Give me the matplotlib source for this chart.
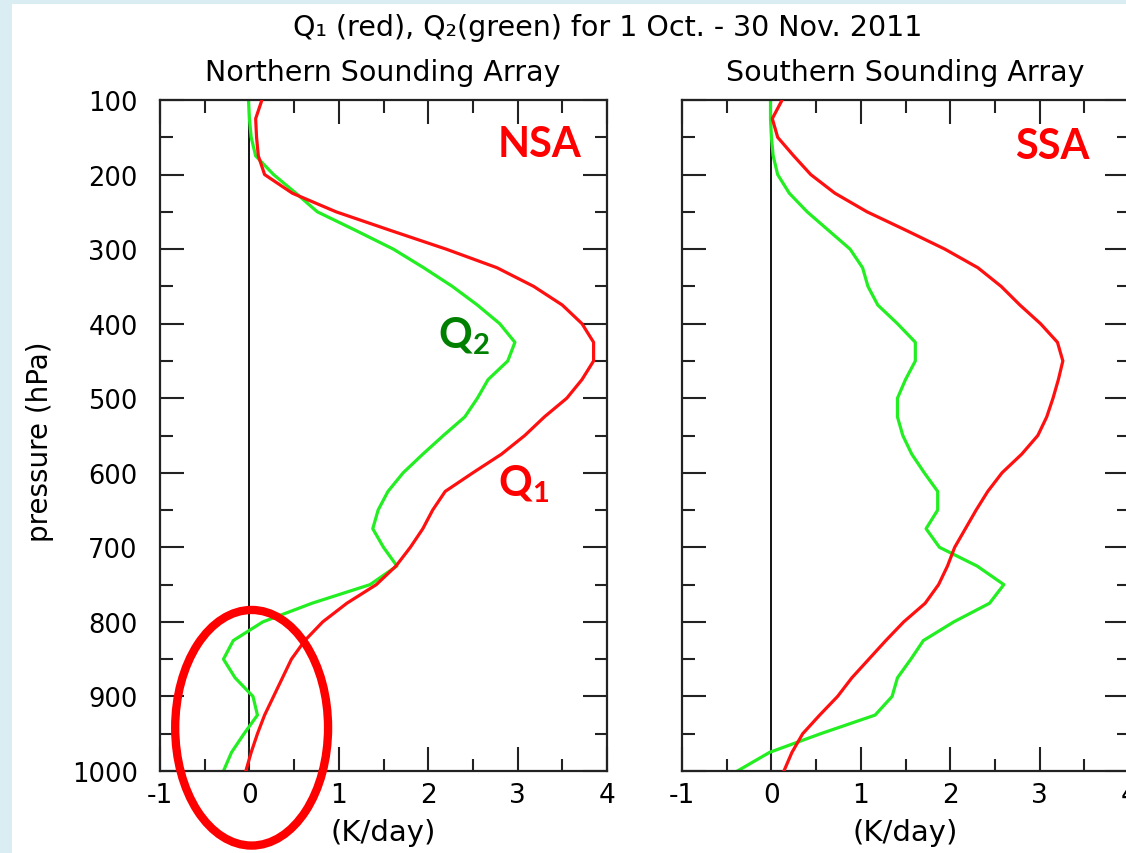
import matplotlib
matplotlib.use("Agg")
import matplotlib.pyplot as plt
from matplotlib.patches import Ellipse
from matplotlib.ticker import MultipleLocator

plt.rcParams['font.family'] = ['DejaVu Sans']
plt.rcParams['mathtext.fontset'] = 'custom'
plt.rcParams['mathtext.bf'] = 'Lato:bold'
plt.rcParams['mathtext.rm'] = 'Lato'

# pressure levels (hPa)
pressure = [100, 125, 150, 175, 200, 225, 250, 275, 300, 325, 350, 375, 400,
            425, 450, 475, 500, 525, 550, 575, 600, 625, 650, 675, 700, 725,
            750, 775, 800, 825, 850, 875, 900, 925, 950, 975, 1000]

# Northern Sounding Array (K/day)
nsa_q1 = [0.14, 0.07, 0.08, 0.10, 0.17, 0.48, 0.97, 1.58, 2.20, 2.77, 3.18, 3.50, 3.72,
          3.85, 3.85, 3.72, 3.55, 3.30, 3.08, 2.82, 2.50, 2.19, 2.05, 1.94, 1.80, 1.64,
          1.42, 1.09, 0.82, 0.62, 0.47, 0.37, 0.27, 0.17, 0.09, 0.02, -0.04]
nsa_q2 = [-0.01, 0.00, 0.02, 0.07, 0.27, 0.52, 0.76, 1.19, 1.61, 1.95, 2.27, 2.55, 2.80,
          2.97, 2.89, 2.67, 2.55, 2.41, 2.17, 1.94, 1.72, 1.55, 1.44, 1.38, 1.50, 1.65,
          1.35, 0.70, 0.15, -0.18, -0.29, -0.16, 0.04, 0.09, -0.06, -0.20, -0.29]

# Southern Sounding Array (K/day)
ssa_q1 = [0.12, 0.01, 0.07, 0.25, 0.44, 0.71, 1.07, 1.51, 1.94, 2.31, 2.57, 2.78, 3.01,
          3.20, 3.26, 3.21, 3.15, 3.08, 2.98, 2.80, 2.58, 2.42, 2.29, 2.17, 2.05, 1.97,
          1.87, 1.72, 1.48, 1.28, 1.09, 0.90, 0.74, 0.54, 0.35, 0.23, 0.14]
ssa_q2 = [-0.01, -0.01, 0.00, 0.02, 0.07, 0.20, 0.40, 0.64, 0.88, 1.02, 1.08, 1.19, 1.41,
          1.61, 1.61, 1.50, 1.41, 1.41, 1.47, 1.57, 1.71, 1.86, 1.86, 1.73, 1.88, 2.30,
          2.60, 2.44, 2.04, 1.70, 1.56, 1.41, 1.35, 1.16, 0.55, -0.02, -0.38]

y_ticks = [100, 200, 300, 400, 500, 600, 700, 800, 900, 1000]
x_ticks = [-1, 0, 1, 2, 3, 4]
x_ticklabels = ['-1', '0', '1', '2', '3', '4']

W, H = 1126, 854
fig = plt.figure(figsize=(W / 100, H / 100), dpi=100)
fig.patch.set_facecolor('white')

# light blue frame (left and top strips)
fig.patches.append(plt.Rectangle((0, 0), 12 / W, 1, transform=fig.transFigure,
                                 facecolor='#DAEDF3', edgecolor='none', zorder=0))
fig.patches.append(plt.Rectangle((0, 1 - 5 / H), 1, 5 / H, transform=fig.transFigure,
                                 facecolor='#DAEDF3', edgecolor='none', zorder=0))

ax_w = 447 / W
ax_h = 671 / H
ax_b = (H - 772) / H
ax1 = fig.add_axes([160 / W, ax_b, ax_w, ax_h])
ax2 = fig.add_axes([682 / W, ax_b, ax_w, ax_h])

GREEN = '#22EE22'
RED = '#FF1010'

for ax, q1, q2 in [(ax1, nsa_q1, nsa_q2), (ax2, ssa_q1, ssa_q2)]:
    ax.axvline(0, color='black', lw=1.3, zorder=1)
    ax.plot(q2, pressure, color=GREEN, lw=2.3, zorder=2)
    ax.plot(q1, pressure, color=RED, lw=2.3, zorder=3)
    ax.set_xlim(-1, 4)
    ax.set_ylim(1000, 100)
    ax.set_xticks(x_ticks)
    ax.set_xticklabels(x_ticklabels)
    ax.set_yticks(y_ticks)
    ax.xaxis.set_minor_locator(MultipleLocator(0.5))
    ax.yaxis.set_minor_locator(MultipleLocator(50))
    ax.tick_params(which='both', direction='in', top=True, right=True,
                   width=1.5, color='#222222')
    ax.tick_params(which='major', length=17)
    ax.tick_params(which='minor', length=9)
    ax.tick_params(axis='x', labelsize=19, pad=8)
    ax.tick_params(axis='y', labelsize=18.5, pad=16)
    for s in ax.spines.values():
        s.set_linewidth(1.6)
        s.set_color('#222222')

ax2.tick_params(axis='y', labelleft=False)

fig.text(608 / W, 1 - 28 / H, 'Q\u2081 (red), Q\u2082(green) for 1 Oct. - 30 Nov. 2011',
         ha='center', va='center', fontsize=20.5)
fig.text(383 / W, 1 - 73 / H, 'Northern Sounding Array', ha='center', va='center', fontsize=20.5)
fig.text(905 / W, 1 - 73 / H, 'Southern Sounding Array', ha='center', va='center', fontsize=20.5)
fig.text(40 / W, 1 - 442 / H, 'pressure (hPa)', rotation=90, ha='center', va='center', fontsize=20)
fig.text(383 / W, 1 - 833 / H, '(K/day)', ha='center', va='center', fontsize=21)
fig.text(905 / W, 1 - 833 / H, '(K/day)', ha='center', va='center', fontsize=21)

# annotations
ax1.text(2.78, 175, 'NSA', color='#FF0000', fontsize=30, fontweight='bold',
         family='Lato', ha='left', va='baseline')
ax2.text(2.73, 178, 'SSA', color='#FF0000', fontsize=30, fontweight='bold',
         family='Lato', ha='left', va='baseline')
ax1.text(2.11, 431, r'$\mathbf{Q}_\mathbf{2}$', color='#008000', fontsize=30,
         ha='left', va='baseline')
ax1.text(2.78, 630, r'$\mathbf{Q}_\mathbf{1}$', color='#FF0000', fontsize=30,
         ha='left', va='baseline')

ell = Ellipse((0.025, 942), 1.71, 316, fill=False, edgecolor='#FF0000', lw=6,
              clip_on=False, zorder=5)
ax1.add_patch(ell)

fig.savefig('out.png', dpi=100)
